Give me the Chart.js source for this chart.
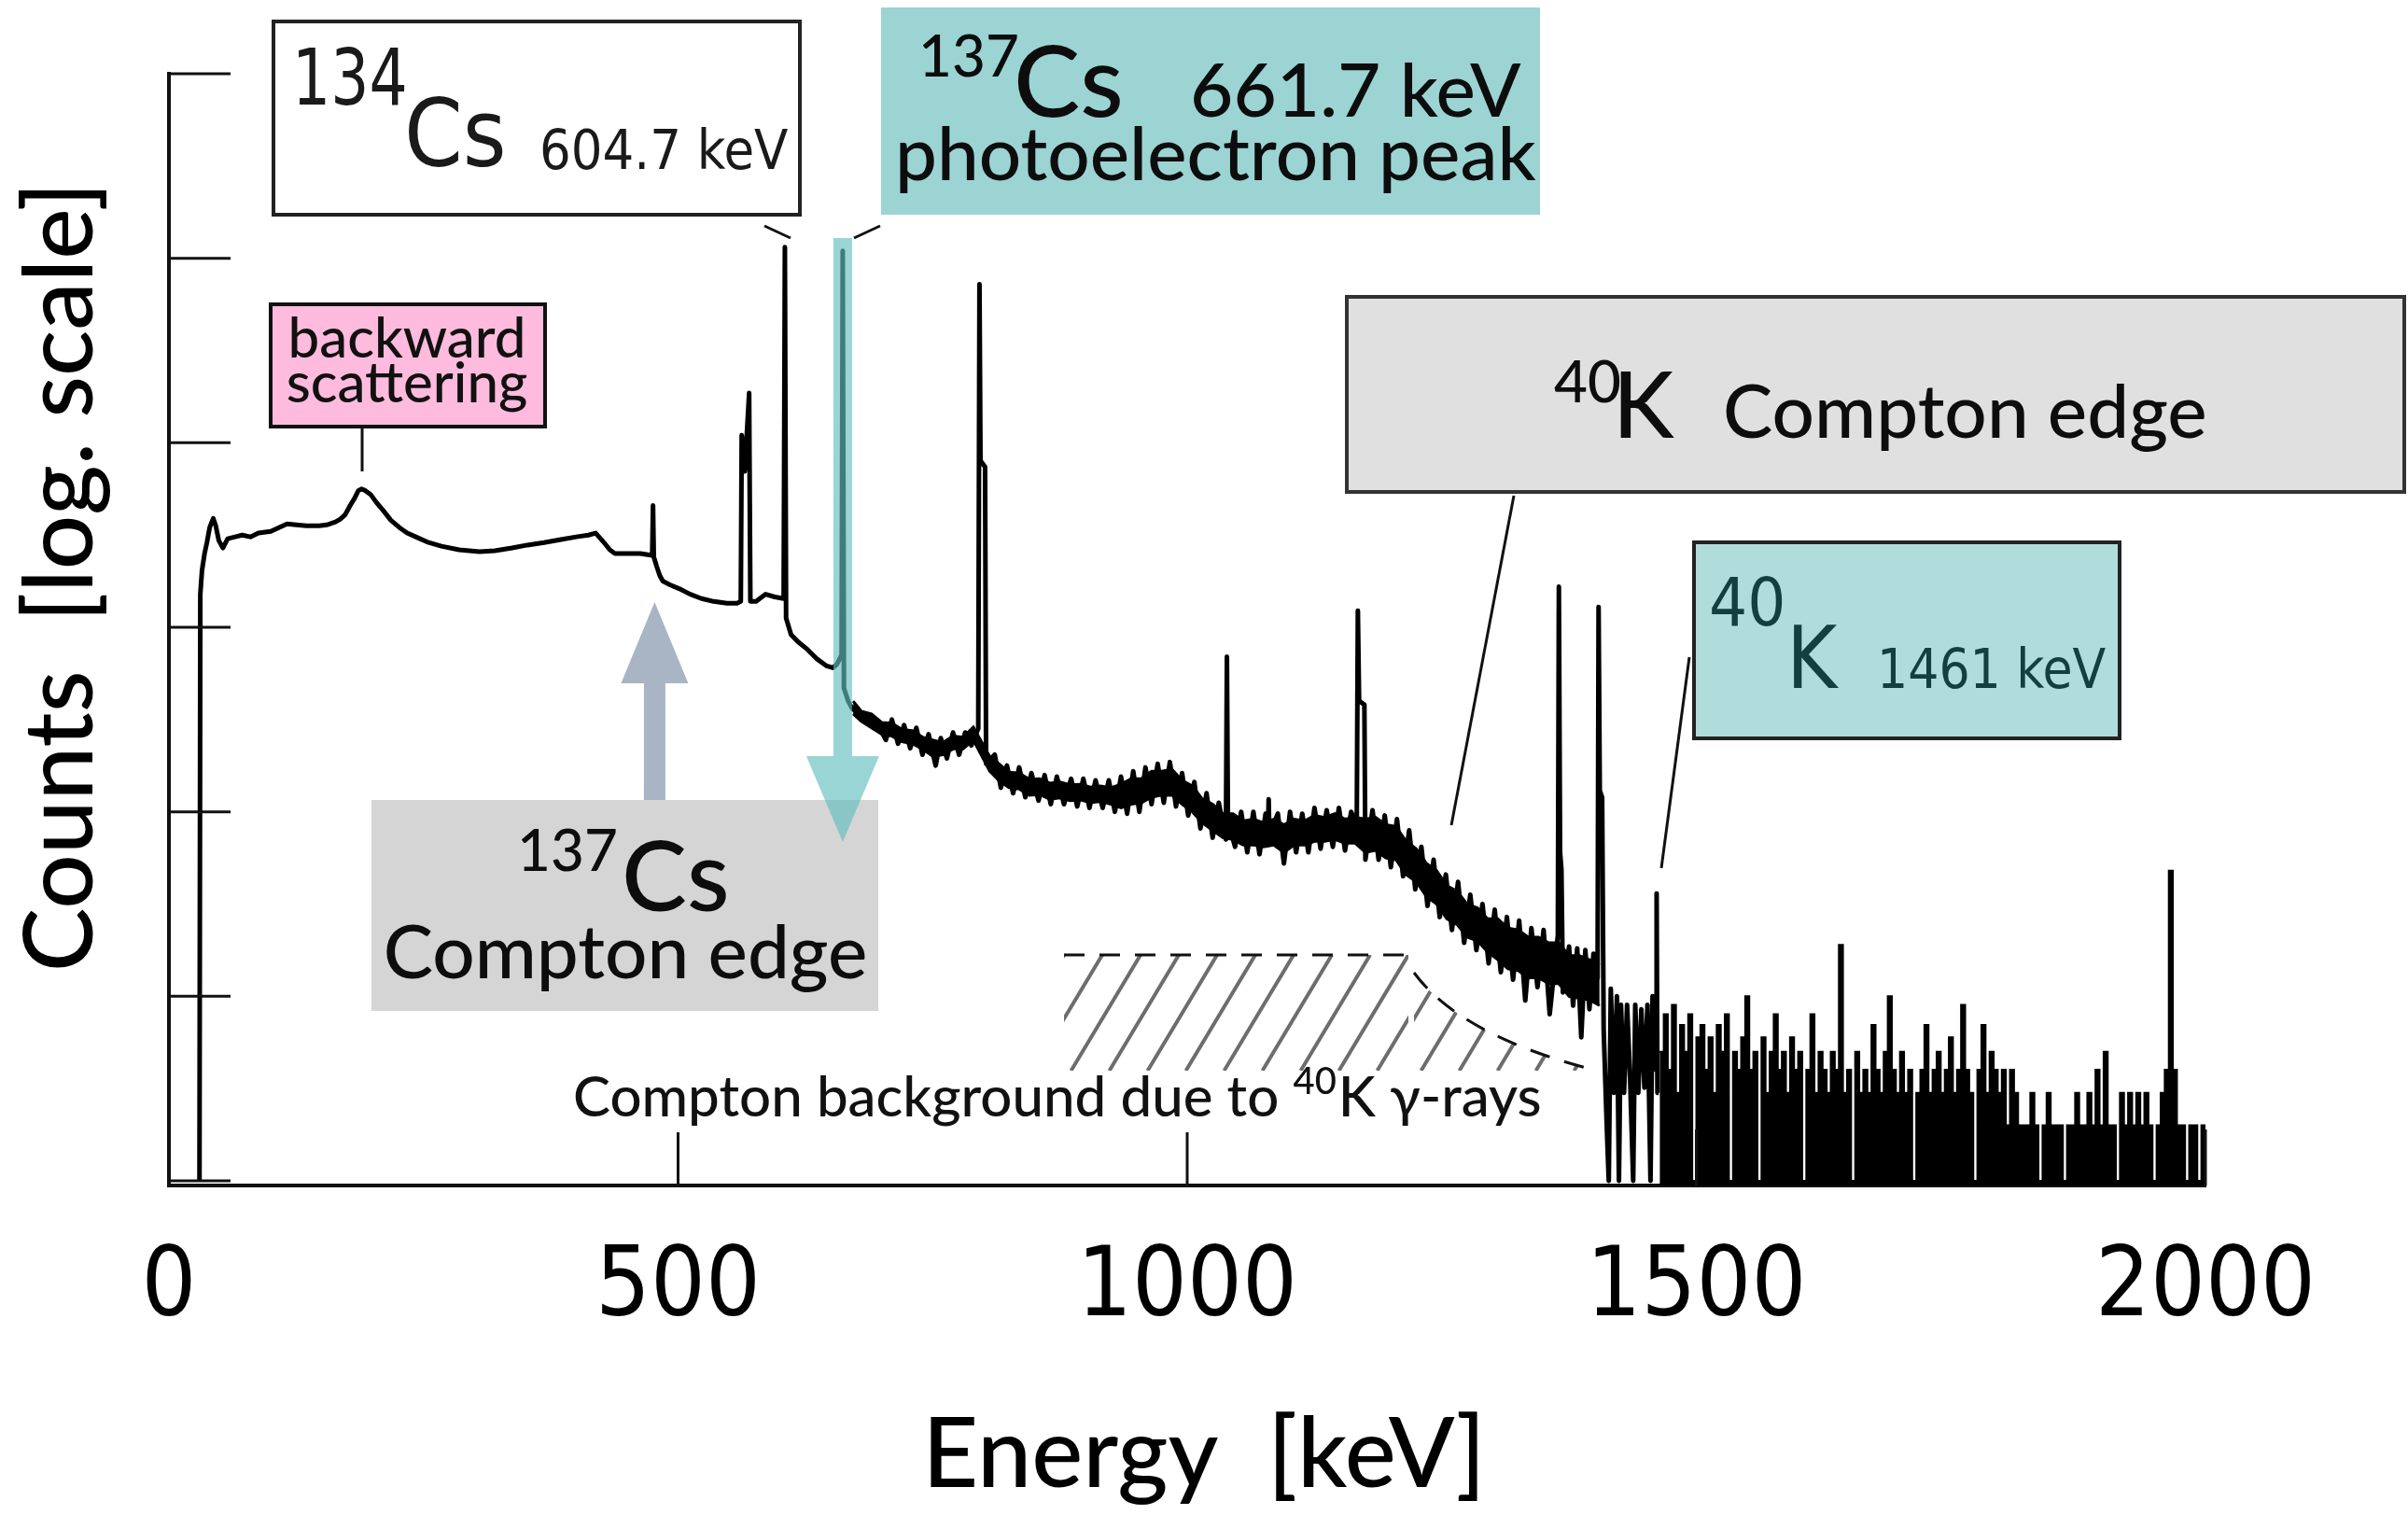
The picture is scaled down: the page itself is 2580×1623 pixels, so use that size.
<!DOCTYPE html>
<html lang="en">
<head>
<meta charset="UTF-8">
<title>Gamma-ray spectrum</title>
<script src="https://cdn.jsdelivr.net/npm/chart.js@4/dist/chart.umd.min.js"></script>
<style>
  html, body { margin: 0; padding: 0; background: #fff; }
  #spectrum { display: block; }
</style>
</head>
<body>
<canvas id="spectrum" width="2580" height="1623"></canvas>
<script>
// spectrum: energy in keV, counts per channel
const energyKeV = [30, 30.8, 32.5, 35, 37.3, 40, 43.5, 46, 49, 53, 57.7, 65, 72, 80, 88, 100, 108, 116, 125, 135,
  147.6, 155, 163.5, 168, 173, 178, 182.4, 186, 189, 193, 198, 204, 210.8, 218, 226.4, 234, 242.4, 255, 267.6, 285,
  305, 320, 337, 352, 368.5, 385, 400, 412, 419, 424, 428.6, 433, 438, 450, 463, 474.6, 475.4, 476.2, 479, 482,
  485, 492, 501, 512, 523, 535, 548, 558, 561.6, 562.5, 565.5, 569.8, 571, 576.6, 586, 595, 603.7, 604.9, 606.1, 611,
  618, 627, 636, 646, 652, 656, 660.6, 661.7, 662.9, 667, 671, 680, 688, 696.6, 704, 710, 716, 722, 728, 734,
  740, 746, 753, 758, 764, 770, 776, 782, 788, 794.8, 796, 797, 801.5, 802.5, 811, 817, 823, 829, 835, 841,
  847, 854, 860, 866, 872, 879, 886, 892, 898, 904, 910, 917, 923, 929, 935, 941, 947, 953, 959, 965,
  971, 977, 983, 989, 995, 1001, 1007, 1013, 1019, 1025, 1031, 1038, 1039, 1040, 1047, 1053, 1059, 1065, 1071, 1077,
  1079.3, 1080, 1080.7, 1089, 1095, 1101, 1107, 1113, 1119, 1125, 1131, 1137, 1143, 1149, 1155, 1161, 1166.5, 1167.6, 1168.8, 1174,
  1175, 1182, 1188, 1194, 1200, 1206, 1212, 1218, 1224, 1230, 1236, 1242, 1248, 1254, 1260, 1266, 1272, 1278, 1284, 1290,
  1296, 1302, 1308, 1314, 1320, 1326, 1332, 1338, 1344, 1350, 1356, 1364, 1365, 1366.2, 1367.5, 1369, 1375, 1379, 1383, 1387,
  1391, 1395, 1399, 1403, 1404, 1405.2, 1407.5, 1409, 1412, 1414, 1416, 1419, 1422, 1424, 1426, 1429, 1432, 1435, 1438, 1440,
  1443, 1446, 1449, 1452, 1455, 1457, 1460.2, 1461, 1461.8, 1463];
const counts = [1, 1510, 2040, 2510, 2880, 3470, 3890, 3550, 2950, 2690, 3020, 3090, 3160, 3090, 3240, 3310, 3470, 3630, 3590, 3550,
  3550, 3590, 3720, 3850, 4070, 4570, 5010, 5500, 5620, 5500, 5250, 4730, 4270, 3800, 3470, 3240, 3090, 2880, 2750, 2630,
  2570, 2600, 2690, 2790, 2880, 2990, 3090, 3160, 3240, 3020, 2820, 2630, 2510, 2510, 2510, 2450, 4570, 2400, 2140, 1910,
  1780, 1700, 1620, 1510, 1430, 1380, 1350, 1350, 1380, 11000, 7000, 18600, 1380, 1380, 1510, 1460, 1430, 114800, 1120, 912,
  832, 759, 676, 617, 603, 631, 708, 109600, 468, 398, 363, 331, 309, 295, 245, 316, 234, 295, 221, 285,
  204, 263, 178, 251, 195, 269, 204, 269, 229, 282, 72400, 8000, 7400, 182, 204, 135, 178, 126, 174, 120,
  162, 115, 158, 110, 155, 110, 151, 107, 151, 105, 148, 105, 148, 100, 155, 97.7, 166, 100, 174, 110,
  182, 112, 186, 107, 162, 95.5, 145, 81.3, 126, 72.4, 112, 70.8, 692, 89.1, 64.6, 100, 60.3, 100, 58.9, 97.7,
  75.9, 117, 75, 97.7, 52.5, 100, 60.3, 97.7, 60.3, 105, 63.1, 102, 64.6, 105, 61.7, 100, 85, 1230, 400, 380,
  55, 102, 55.0, 95.5, 50.1, 91.2, 44.7, 79.4, 38.0, 64.6, 30.9, 55.0, 26.9, 45.7, 22.9, 41.7, 19.5, 35.5, 17.8, 31.6,
  15.1, 29.5, 13.5, 26.9, 12.3, 25.7, 9.5, 23.4, 11.2, 22.9, 8, 21.4, 1660, 60, 49, 10.5, 18.6, 8.91, 18.2, 6,
  17.8, 8.51, 17.0, 12.6, 1290, 130, 120, 6.61, 2, 1, 11, 3, 10, 1, 9, 3, 9, 3.5, 1, 9,
  3, 8.5, 3.2, 9, 1, 10, 4, 36, 3, 3];

// spread of the noisy continuum (upper and lower edge of the black band)
const bandKeV = [672, 680, 690, 700, 710, 720, 730, 740, 750, 760, 770, 780, 790,
  806, 815, 825, 835, 845, 855, 865, 875, 885, 895, 905, 915, 925,
  935, 945, 955, 965, 975, 985, 995, 1005, 1015, 1025, 1035, 1045, 1055, 1065, 1075, 1085, 1095, 1105, 1115, 1125, 1135, 1145, 1155, 1165,
  1175, 1185, 1195, 1205, 1215, 1225, 1235, 1245, 1255, 1265, 1275, 1285, 1295,
  1305, 1315, 1325, 1335, 1345, 1355, 1365, 1375, 1385, 1395, 1405];
const bandUpper = [398, 351, 339, 305, 302, 279, 275, 254, 245, 237, 257, 254, 288,
  200, 182, 164, 162, 150, 151, 143, 145, 140, 141, 136, 138, 135,
  141, 151, 151, 166, 166, 170, 148, 138, 117, 110, 97.7, 97.7, 89.1, 91.2, 87.1, 91.2, 85.1, 91.2, 89.1, 95.5, 93.3, 97.7, 91.2, 93.3,
  91.2, 93.3, 85.1, 83.2, 69.2, 63.1, 52.5, 47.9, 39.8, 37.2, 31.6, 30.2, 26.3,
  26.3, 23.4, 22.9, 20.9, 20.9, 19.5, 19.5, 16.6, 16.6, 15.8, 14.8];
const bandLower = [339, 309, 285, 263, 257, 240, 234, 219, 200, 204, 219, 219, 245,
  166, 148, 135, 133, 123, 124, 117, 119, 115, 116, 112, 114, 110,
  105, 110, 112, 120, 123, 123, 110, 100, 87.1, 79.4, 72.4, 70.8, 66.1, 66.1, 64.6, 66.1, 60.3, 66.1, 66.1, 69.2, 69.2, 70.8, 67.6, 67.6,
  60.3, 61.7, 56.2, 55.0, 45.7, 41.7, 34.7, 31.6, 26.3, 24.5, 20.9, 20.0, 17.4,
  15.8, 14.1, 13.8, 12.6, 12.6, 11.7, 11.7, 10.0, 9.77, 9.55, 8.91];

// high-energy tail, 4 keV channels drawn as a filled histogram
const tailKeV = [1464, 1468, 1472, 1476, 1480, 1484, 1488, 1492, 1496, 1500, 1504, 1508, 1512, 1516, 1520, 1524, 1528, 1532, 1536, 1540,
  1544, 1548, 1552, 1556, 1560, 1564, 1568, 1572, 1576, 1580, 1584, 1588, 1592, 1596, 1600, 1604, 1608, 1612, 1616, 1620,
  1624, 1628, 1632, 1636, 1640, 1644, 1648, 1652, 1656, 1660, 1664, 1668, 1672, 1676, 1680, 1684, 1688, 1692, 1696, 1700,
  1704, 1708, 1712, 1716, 1720, 1724, 1728, 1732, 1736, 1740, 1744, 1748, 1752, 1756, 1760, 1764, 1768, 1772, 1776, 1780,
  1784, 1788, 1792, 1796, 1800, 1804, 1808, 1812, 1816, 1820, 1824, 1828, 1832, 1836, 1840, 1844, 1848, 1852, 1856, 1860,
  1864, 1868, 1872, 1876, 1880, 1884, 1888, 1892, 1896, 1900, 1904, 1908, 1912, 1916, 1920, 1924, 1928, 1932, 1936, 1940,
  1944, 1948, 1952, 1956, 1960, 1964, 1968, 1972, 1976, 1980, 1984, 1988, 1992, 1996, 2000];
const tailCounts = [5, 8, 4, 9, 3, 7, 5, 8, 1, 6, 7, 4, 6, 3, 7, 5, 8, 1, 5, 4,
  6, 10, 4, 5, 1, 6, 3, 5, 8, 4, 5, 3, 6, 4, 5, 1, 4, 8, 3, 5,
  4, 3, 5, 4, 19, 3, 4, 1, 5, 3, 4, 3, 7, 4, 3, 5, 10, 4, 3, 5,
  3, 4, 1, 3, 4, 7, 3, 4, 5, 3, 4, 6, 3, 4, 9, 4, 3, 1, 4, 7,
  3, 5, 4, 3, 4, 2, 4, 3, 2, 2, 2, 3, 2, 1, 2, 3, 2, 2, 2, 1,
  2, 2, 3, 2, 2, 3, 2, 4, 2, 5, 2, 2, 1, 3, 2, 3, 2, 3, 2, 3,
  2, 1, 2, 3, 4, 48, 4, 2, 2, 1, 2, 2, 1, 2, 2];

const xTickValues = [0, 500, 1000, 1500, 2000];
const yTickValues = [1, 10, 100, 1000, 10000, 100000, 1000000];

const GILL = 'Lato, "Open Sans", sans-serif';
const VERD = '"DejaVu Sans Condensed", "DejaVu Sans", sans-serif';

function pts(xs, ys) {
  return xs.map((e, i) => ({ x: e, y: ys[i] }));
}

function seg(ctx, x1, y1, x2, y2) {
  ctx.beginPath();
  ctx.moveTo(x1, y1);
  ctx.lineTo(x2, y2);
  ctx.stroke();
}

// text with its baseline at (x, y); stretch > 1 makes the glyphs taller
function txt(ctx, s, x, y, size, family, color, align, weight, stretch) {
  ctx.save();
  ctx.font = (weight || 'normal') + ' ' + size + 'px ' + family;
  ctx.fillStyle = color || '#111';
  ctx.textAlign = align || 'left';
  ctx.textBaseline = 'alphabetic';
  ctx.translate(x, y);
  ctx.scale(1, stretch || 1);
  ctx.fillText(s, 0, 0);
  const w = ctx.measureText(s).width;
  ctx.restore();
  return w;
}

function box(ctx, x1, y1, x2, y2, fill, border) {
  ctx.fillStyle = fill;
  ctx.fillRect(x1, y1, x2 - x1, y2 - y1);
  if (border) {
    ctx.strokeStyle = border;
    ctx.lineWidth = 4;
    ctx.strokeRect(x1, y1, x2 - x1, y2 - y1);
  }
}

function arrow(ctx, cx, yTail, yBase, yTip, shaftW, headW, color) {
  ctx.fillStyle = color;
  ctx.beginPath();
  ctx.moveTo(cx - shaftW / 2, yTail);
  ctx.lineTo(cx - shaftW / 2, yBase);
  ctx.lineTo(cx - headW / 2, yBase);
  ctx.lineTo(cx, yTip);
  ctx.lineTo(cx + headW / 2, yBase);
  ctx.lineTo(cx + shaftW / 2, yBase);
  ctx.lineTo(cx + shaftW / 2, yTail);
  ctx.closePath();
  ctx.fill();
}

function hatch(ctx, outline, x0, x1, y0, y1) {
  ctx.save();
  ctx.beginPath();
  outline();
  ctx.clip();
  ctx.strokeStyle = '#6d6d6d';
  ctx.lineWidth = 4;
  const run = (y1 - y0) * 0.6;
  ctx.beginPath();
  for (let x = x0 - run; x < x1; x += 41) {
    ctx.moveTo(x, y1);
    ctx.lineTo(x + run, y0);
  }
  ctx.stroke();
  ctx.restore();
}

const decor = {
  id: 'decor',
  afterDraw(chart) {
    const ctx = chart.ctx;
    const xs = chart.scales.x, ys = chart.scales.y;
    ctx.save();

    // tick marks pointing into the plot
    ctx.strokeStyle = '#111';
    ctx.lineWidth = 3;
    ys.ticks.forEach(t => {
      const py = ys.getPixelForValue(t.value);
      seg(ctx, xs.left, py, xs.left + 66, py);
    });
    xs.ticks.forEach(t => {
      const px = xs.getPixelForValue(t.value);
      seg(ctx, px, ys.bottom, px, ys.bottom - 60);
    });

    // hatched Compton background of 40K
    hatch(ctx, () => ctx.rect(1140, 1023, 369, 124), 1140, 1509, 1023, 1147);
    const tailShape = () => {
      ctx.moveTo(1515, 1042);
      ctx.quadraticCurveTo(1565, 1110, 1711, 1147);
      ctx.lineTo(1515, 1147);
      ctx.closePath();
    };
    hatch(ctx, tailShape, 1515, 1711, 1023, 1147);
    ctx.strokeStyle = '#111';
    ctx.lineWidth = 3;
    ctx.setLineDash([22, 16]);
    seg(ctx, 1140, 1023, 1509, 1023);
    ctx.beginPath();
    ctx.moveTo(1515, 1042);
    ctx.quadraticCurveTo(1565, 1110, 1711, 1147);
    ctx.stroke();
    ctx.setLineDash([]);

    // label of the hatched area
    ctx.fillStyle = '#fff';
    ctx.fillRect(600, 1147, 1105, 66);
    let cx = 614;
    cx += txt(ctx, 'Compton background due to ', cx, 1196, 60, GILL, '#111', 'left', 500);
    cx += txt(ctx, '40', cx, 1172, 40, GILL, '#111', 'left', 500);
    txt(ctx, 'K γ-rays', cx + 2, 1196, 60, GILL, '#111', 'left', 500);

    // leader lines
    ctx.strokeStyle = '#111';
    ctx.lineWidth = 3;
    seg(ctx, 388, 457, 388, 505);
    seg(ctx, 819, 242, 847, 255);
    seg(ctx, 915, 255, 943, 242);
    seg(ctx, 1622, 531, 1555, 884);
    seg(ctx, 1810, 704, 1780, 930);

    // 134Cs
    box(ctx, 293, 23, 857, 230, '#fff', '#222');
    txt(ctx, '134', 313, 112, 72, VERD, '#1a1a1a', 'left', 'normal', 1.17);
    txt(ctx, 'Cs', 433, 178, 100, VERD, '#1a1a1a');
    txt(ctx, '604.7 keV', 578, 181, 59, VERD, '#1a1a1a');

    // 137Cs photopeak
    box(ctx, 944, 8, 1650, 230, '#9cd4d4');
    txt(ctx, '137', 984, 82, 62, GILL, '#0d0d0d', 'left', 500);
    txt(ctx, 'Cs', 1086, 125, 107, GILL, '#0d0d0d', 'left', 500);
    txt(ctx, '661.7 keV', 1275, 125, 80, GILL, '#0d0d0d', 'left', 500);
    txt(ctx, 'photoelectron peak', 959, 193, 80, GILL, '#0d0d0d', 'left', 500);

    // backward scattering
    box(ctx, 290, 326, 584, 457, '#ffbbdd', '#111');
    txt(ctx, 'backward', 436, 383, 60, GILL, '#111', 'center', 500);
    txt(ctx, 'scattering', 436, 431, 60, GILL, '#111', 'center', 500);

    // 40K Compton edge
    box(ctx, 1443, 318, 2576, 527, '#e0e0e0', '#333');
    txt(ctx, '40', 1665, 431, 62, GILL, '#0d0d0d', 'left', 500);
    txt(ctx, 'K', 1728, 469, 98, GILL, '#0d0d0d', 'left', 500);
    txt(ctx, 'Compton edge', 1846, 469, 80, GILL, '#0d0d0d', 'left', 500);

    // 40K line
    box(ctx, 1815, 581, 2271, 791, '#b0dcdc', '#222');
    txt(ctx, '40', 1831, 670, 72, VERD, '#143f3f');
    txt(ctx, 'K', 1914, 737, 92, VERD, '#143f3f');
    txt(ctx, '1461 keV', 2011, 737, 58, VERD, '#143f3f');

    // 137Cs Compton edge
    box(ctx, 398, 857, 941, 1083, '#d5d5d5');
    txt(ctx, '137', 554, 933, 62, GILL, '#0d0d0d', 'left', 500);
    txt(ctx, 'Cs', 666, 976, 105, GILL, '#0d0d0d', 'left', 500);
    txt(ctx, 'Compton edge', 670, 1048, 80, GILL, '#0d0d0d', 'center', 500);

    // arrows
    arrow(ctx, xs.getPixelForValue(477), 857, 732, 645, 23, 72, '#a9b4c4');
    arrow(ctx, xs.getPixelForValue(661.7), 255, 810, 902, 20, 78, 'rgba(100, 190, 190, 0.65)');

    // axis titles
    txt(ctx, 'Energy  [keV]', 1290, 1593, 104, GILL, '#000', 'center', 500);
    ctx.save();
    ctx.translate(99, 618);
    ctx.rotate(-Math.PI / 2);
    txt(ctx, 'Counts  [log. scale]', 0, 0, 103, GILL, '#000', 'center', 500);
    ctx.restore();

    ctx.restore();
  }
};

new Chart(document.getElementById('spectrum'), {
  type: 'line',
  data: {
    datasets: [
      {
        data: pts(energyKeV, counts),
        borderColor: '#000',
        borderWidth: 5,
        borderJoinStyle: 'round',
        pointRadius: 0,
        tension: 0,
        fill: false
      },
      {
        data: pts(bandKeV, bandUpper),
        borderColor: '#000',
        borderWidth: 3,
        backgroundColor: '#000',
        pointRadius: 0,
        fill: '+1'
      },
      {
        data: pts(bandKeV, bandLower),
        borderColor: '#000',
        borderWidth: 3,
        pointRadius: 0,
        fill: false
      },
      {
        data: pts(tailKeV, tailCounts),
        borderColor: '#000',
        borderWidth: 2,
        backgroundColor: '#000',
        stepped: true,
        pointRadius: 0,
        fill: 'start'
      }
    ]
  },
  options: {
    responsive: false,
    animation: false,
    devicePixelRatio: 1,
    layout: { padding: { top: 79, right: 217, bottom: 0, left: 0 } },
    plugins: { legend: { display: false }, tooltip: { enabled: false } },
    scales: {
      x: {
        type: 'linear',
        min: 0,
        max: 2000,
        afterFit: s => { s.height = 353; },
        afterBuildTicks: s => { s.ticks = xTickValues.map(v => ({ value: v })); },
        grid: { display: false, drawTicks: false },
        border: { display: true, color: '#111', width: 4 },
        ticks: {
          color: '#000',
          padding: 50,
          maxRotation: 0,
          autoSkip: false,
          font: { family: VERD, size: 103 },
          callback: v => String(v)
        }
      },
      y: {
        type: 'logarithmic',
        min: 0.9434,
        max: 1000000,
        afterFit: s => { s.width = 181; },
        afterBuildTicks: s => { s.ticks = yTickValues.map(v => ({ value: v })); },
        grid: { display: false, drawTicks: false },
        border: { display: true, color: '#111', width: 4 },
        ticks: { display: false }
      }
    }
  },
  plugins: [decor]
});
</script>
</body>
</html>
